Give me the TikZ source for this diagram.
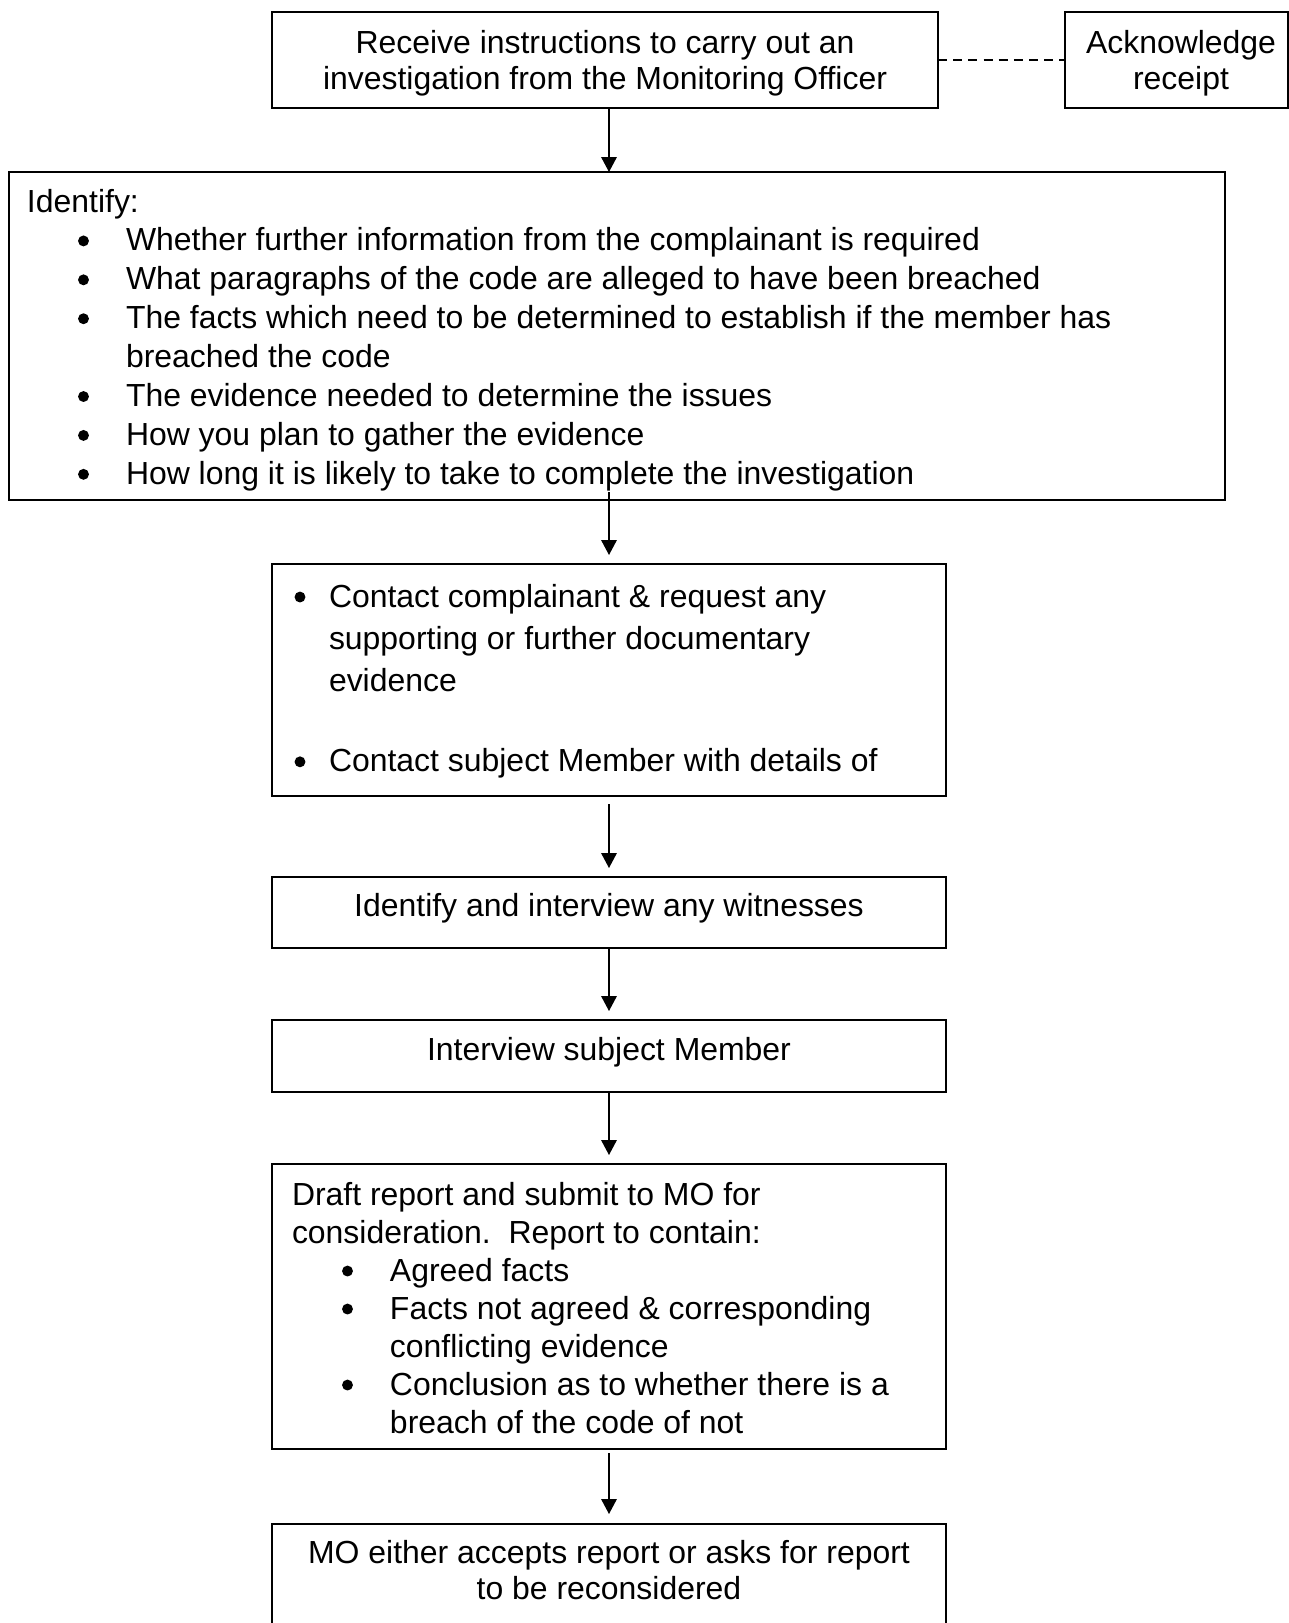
\documentclass[tikz,border=0pt]{standalone}
\usepackage{fontspec}
\setmainfont{Liberation Sans}
\usepackage{xcolor}
\usepackage{tikz}
\usetikzlibrary{arrows.meta}
\definecolor{ink}{HTML}{000000}
\newlength{\pxlen}
\setlength{\pxlen}{0.3757pt}
\tikzset{
  box/.style={rectangle, draw=ink, line width=0.75pt, inner sep=0pt, outer sep=0pt},
  arr/.style={-{Triangle[length=5.6pt, width=5.8pt]}, line width=0.6pt, draw=ink},
  link/.style={dash pattern=on 3.4pt off 2.3pt, line width=0.6pt, draw=ink}
}
\newcommand{\BoxText}[4]{% width, height, baselineskip (px), text
  \parbox[c][#2\pxlen][t]{#1\pxlen}{\fontsize{12}{#3\pxlen}\selectfont #4}}
\newcommand{\FirstLine}[1]{\rule{0pt}{#1\pxlen}}
\newcommand{\Dot}{\tikz[baseline=0pt]\fill[ink] (0,3.75pt) circle[radius=2.05pt];}
\newcommand{\Bul}[3]{% bullet centre, text x (px), text
  \hangindent=#2\pxlen\hangafter=1\noindent\hbox to #2\pxlen{\hskip#1\pxlen\hbox to 0pt{\hss\Dot\hss}\hfil}#3\par}
\begin{document}
\begin{tikzpicture}[x=\pxlen, y=-\pxlen]
  \useasboundingbox (0,0) rectangle (1289,1623);
  \clip (0,0) rectangle (1289,1623);
  \node[box] (top) at (605,60) {\BoxText{666}{96}{36}{\centering\FirstLine{41}Receive instructions to carry out an\\investigation from the Monitoring Officer}};
  \node[box] (ack) at (1176.5,60) {\BoxText{223}{96}{36}{\centering\leftskip=9\pxlen plus 1fil\FirstLine{41}Acknowledge\\receipt}};
  \node[box] (idf) at (617,336) {\BoxText{1216}{328}{38.9}{%
    {\leftskip=18\pxlen\noindent\FirstLine{40}Identify:\par}
    \Bul{74.5}{117}{Whether further information from the complainant is required}
    \Bul{74.5}{117}{What paragraphs of the code are alleged to have been breached}
    \Bul{74.5}{117}{The facts which need to be determined to establish if the member has\newline breached the code}
    \Bul{74.5}{117}{The evidence needed to determine the issues}
    \Bul{74.5}{117}{How you plan to gather the evidence}
    \Bul{74.5}{117}{How long it is likely to take to complete the investigation}}};
  \node[box] (cnt) at (609,680) {\BoxText{674}{232}{42.4}{%
    \Bul{28}{57}{\FirstLine{43}Contact complainant \& request any\newline supporting or further documentary\newline evidence}
    \vskip37.6\pxlen
    \Bul{28}{57}{Contact subject Member with details of}}};
  \node[box] (wit) at (609,912.5) {\BoxText{674}{71}{36}{\centering\FirstLine{39}Identify and interview any witnesses}};
  \node[box] (intv) at (609,1056) {\BoxText{674}{72}{36}{\centering\FirstLine{40}Interview subject Member}};
  \node[box] (dft) at (609,1306.5) {\BoxText{674}{285}{38}{%
    {\leftskip=20\pxlen\noindent\FirstLine{41}Draft report and submit to MO for\newline consideration.\ \ Report to contain:\par}
    \Bul{75.5}{118}{Agreed facts}
    \Bul{75.5}{118}{Facts not agreed \& corresponding\newline conflicting evidence}
    \Bul{75.5}{118}{Conclusion as to whether there is a\newline breach of the code of not}}};
  \node[box] (mo) at (609,1584) {\BoxText{674}{120}{36}{\centering\FirstLine{39}MO either accepts report or asks for report\\to be reconsidered}};

  \draw[link] (top) -- (ack);
  \draw[arr] (cnt.north |- top.south) -- (cnt.north |- idf.north);
  \draw[arr, shorten <=-8*\pxlen, shorten >=9*\pxlen] (cnt.north |- idf.south) -- (cnt.north);
  \draw[arr, shorten <=8*\pxlen, shorten >=9*\pxlen] (cnt) -- (wit);
  \draw[arr, shorten >=9*\pxlen] (wit) -- (intv);
  \draw[arr, shorten >=9*\pxlen] (intv) -- (dft);
  \draw[arr, shorten <=4*\pxlen, shorten >=10*\pxlen] (dft) -- (mo);
\end{tikzpicture}
\end{document}
